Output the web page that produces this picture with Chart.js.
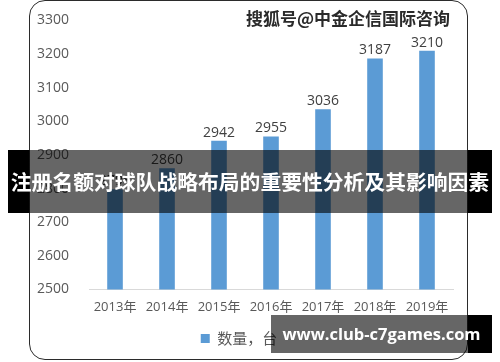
<!DOCTYPE html>
<html>
<head>
<meta charset="utf-8">
<script src="https://cdn.jsdelivr.net/npm/chart.js@4/dist/chart.umd.min.js"></script>
<style>
  body { margin: 0; background: #fff; }
  #wrap { position: relative; width: 500px; height: 362px; overflow: hidden; }
  #chart { position: absolute; left: 0; top: 0; }
  .card { position: absolute; left: 29px; top: 0px; width: 437px; height: 358px;
          border: 1.5px solid #2b2b2b; border-radius: 16px; pointer-events: none; }
  .banner { position: absolute; left: 8px; top: 150px; width: 484px; height: 63px;
            background: linear-gradient(to right, #000 21px, rgba(0,0,0,0.6) 21px, rgba(0,0,0,0.6) 460px, #000 460px);
            color: #fff; font: bold 20.8px "Noto Sans CJK SC", sans-serif; line-height: 63px;
            text-align: center; white-space: nowrap; }
  .site { position: absolute; left: 271px; top: 315px; width: 221px; height: 38px;
          background: linear-gradient(to right, rgba(0,0,0,0.6) 197px, #000 197px);
          color: #fff; font: bold 16.5px "Open Sans", sans-serif; line-height: 38px;
          text-align: center; white-space: nowrap; }
  .mark { position: absolute; left: 246px; top: 5px; color: #2a2a2a;
          font: bold 17px "Noto Sans CJK SC", sans-serif; white-space: nowrap;
          text-shadow: 1px 0 #fff, -1px 0 #fff, 0 1px #fff, 0 -1px #fff; }
</style>
</head>
<body>
<div id="wrap">
  <canvas id="chart" width="500" height="362"></canvas>
  <div class="card"></div>
  <div class="mark">搜狐号@中金企信国际咨询</div>
  <div class="banner">注册名额对球队战略布局的重要性分析及其影响因素</div>
  <div class="site">www.club-c7games.com</div>
</div>
<script>
// 数据
const years = ['2013年', '2014年', '2015年', '2016年', '2017年', '2018年', '2019年'];
const counts = [2798, 2860, 2942, 2955, 3036, 3187, 3210];
const seriesName = '数量，台';

// 柱顶数值标签
const valueLabels = {
    id: 'valueLabels',
    afterDatasetsDraw(chart) {
        const ctx = chart.ctx;
        const meta = chart.getDatasetMeta(0);
        ctx.save();
        ctx.font = '14px "Open Sans", "Noto Sans CJK SC", sans-serif';
        ctx.fillStyle = '#404040';
        ctx.textAlign = 'center';
        ctx.textBaseline = 'bottom';
        meta.data.forEach((bar, i) => {
            ctx.fillText(counts[i], bar.x, bar.y - 1);
        });
        ctx.restore();
    }
};

const ctx = document.getElementById('chart').getContext('2d');
new Chart(ctx, {
    type: 'bar',
    data: {
        labels: years,
        datasets: [{
            label: seriesName,
            data: counts,
            backgroundColor: '#5b9bd5',
            categoryPercentage: 1,
            barPercentage: 0.3
        }]
    },
    options: {
        responsive: false,
        animation: false,
        layout: { padding: { left: 25, right: 47, top: 0, bottom: 6 } },
        plugins: {
            legend: {
                position: 'bottom',
                labels: {
                    boxWidth: 9, boxHeight: 9, padding: 10,
                    color: '#595959',
                    font: { size: 15, family: '"Noto Sans CJK SC", sans-serif' }
                }
            },
            tooltip: { enabled: false }
        },
        scales: {
            y: {
                min: 2500, max: 3300,
                ticks: {
                    stepSize: 100, color: '#595959', padding: 12,
                    font: { size: 14, family: '"Open Sans", sans-serif' },
                    callback: v => String(v)
                },
                grid: { display: false },
                border: { display: false }
            },
            x: {
                grid: { display: false },
                border: { color: '#d9d9d9', width: 1 },
                afterFit: scale => { scale.height += 4; },
                ticks: {
                    color: '#595959', padding: 2,
                    font: { size: 13, family: '"Open Sans", "Noto Sans CJK SC", sans-serif' }
                }
            }
        }
    },
    plugins: [valueLabels]
});
</script>
</body>
</html>
